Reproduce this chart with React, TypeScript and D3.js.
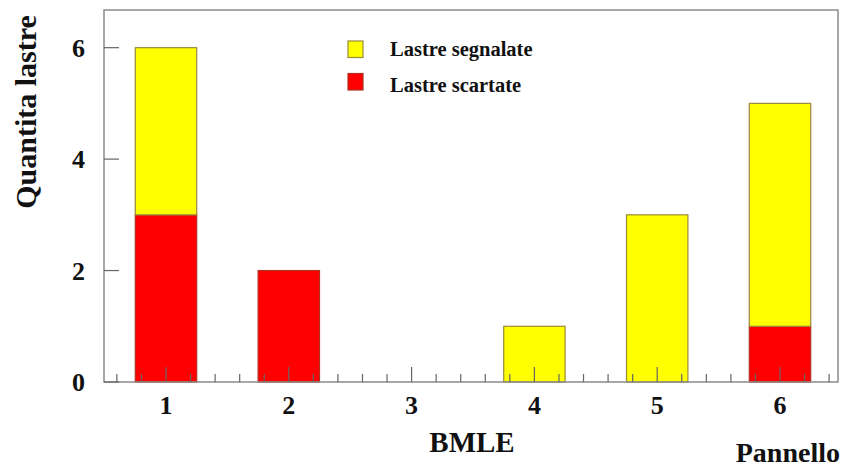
import React from "react";
import * as d3 from "d3";

const categories = [1, 2, 3, 4, 5, 6];
const scartate = [3, 2, 0, 0, 0, 1];
const segnalate = [3, 0, 0, 1, 3, 4];
const yTicks = [0, 2, 4, 6];
const seriesNames = ["Lastre scartate", "Lastre segnalate"];
const seriesColors = ["#ff0000", "#ffff00"];

const W = 846;
const H = 468;
const left = 104;
const right = 838;
const top = 10;
const bottom = 382;
const font = "'Liberation Serif', 'Times New Roman', serif";

export default function App() {
  const x = d3.scaleLinear().domain([1, 6]).range([166, 780]);
  const y = d3.scaleLinear().domain([0, 6.676]).range([bottom, top]);

  const rows = categories.map((c, i) => ({ c, scartate: scartate[i], segnalate: segnalate[i] }));
  const stack = d3.stack<any>().keys(["scartate", "segnalate"]);
  const layers = stack(rows);

  const minorTicks = d3.range(0.6, 6.4, 0.2).map((v) => Math.round(v * 10) / 10);
  const grey = "#8a8a8a";

  return (
    <svg width={W} height={H} style={{ position: "absolute", left: 0, top: 0 }}>
      <rect x={0} y={0} width={W} height={H} fill="#fff" />
      {layers.map((layer, li) => (
        <g key={li}>
          {layer.map((d, i) => {
            const h = y(d[0]) - y(d[1]);
            if (h <= 0) return null;
            const c = categories[i];
            return (
              <rect
                key={i}
                x={x(c - 0.25)}
                y={y(d[1])}
                width={x(c + 0.25) - x(c - 0.25)}
                height={h}
                fill={seriesColors[li]}
                stroke={li === 1 ? "#9a8a3a" : "#b03020"}
                strokeWidth={1.2}
              />
            );
          })}
        </g>
      ))}
      {/* frame */}
      <rect x={left} y={top} width={right - left} height={bottom - top} fill="none" stroke={grey} strokeWidth={1.5} />
      {/* x ticks */}
      {minorTicks.map((v) => {
        const major = Math.abs(v - Math.round(v)) < 1e-6;
        return (
          <line key={v} x1={x(v)} x2={x(v)} y1={bottom} y2={bottom - (major ? 15 : 8)} stroke="#666" strokeWidth={1.2} />
        );
      })}
      {categories.map((c) => (
        <text key={c} x={x(c)} y={414} textAnchor="middle" fontFamily={font} fontWeight="bold" fontSize={26} fill="#111">
          {c}
        </text>
      ))}
      {/* y ticks */}
      {yTicks.map((t) => (
        <g key={t}>
          <line x1={left} x2={left + 15} y1={y(t)} y2={y(t)} stroke="#666" strokeWidth={1.2} />
          <text x={85} y={y(t) + 9} textAnchor="end" fontFamily={font} fontWeight="bold" fontSize={26} fill="#111">
            {t}
          </text>
        </g>
      ))}
      <text
        transform={`translate(36, 112) rotate(-90)`}
        textAnchor="middle"
        fontFamily={font}
        fontWeight="bold"
        fontSize={30}
        fill="#111"
      >
        Quantita lastre
      </text>
      <text x={472} y={452} textAnchor="middle" fontFamily={font} fontWeight="bold" fontSize={29} fill="#111">
        BMLE
      </text>
      <text x={840} y={462} textAnchor="end" fontFamily={font} fontWeight="bold" fontSize={28} fill="#111">
        Pannello
      </text>
      {/* legend */}
      {[1, 0].map((si, k) => (
        <g key={si}>
          <rect x={348} y={41 + k * 32.5} width={15} height={16.5} fill={seriesColors[si]} stroke={si === 1 ? "#9a8a3a" : "#b03020"} strokeWidth={1.2} />
          <text x={390} y={55.5 + k * 36} fontFamily={font} fontWeight="bold" fontSize={20.5} fill="#111">
            {seriesNames[si]}
          </text>
        </g>
      ))}
    </svg>
  );
}
